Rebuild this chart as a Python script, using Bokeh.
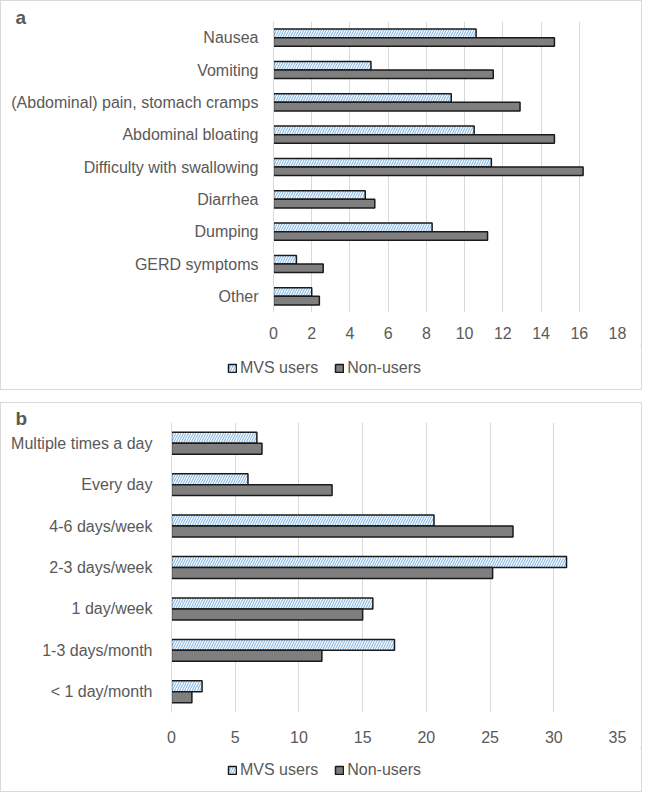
from bokeh.plotting import figure
from bokeh.models import (FactorRange, Range1d, SingleIntervalTicker, Legend,
                          LegendItem, ColumnDataSource)
from bokeh.transform import dodge
from bokeh.layouts import column
from bokeh.embed import file_html
from bokeh.resources import INLINE

# ---- data ----
sym_cats = ["Nausea", "Vomiting", "(Abdominal) pain, stomach cramps",
            "Abdominal bloating", "Difficulty with swallowing", "Diarrhea",
            "Dumping", "GERD symptoms", "Other"]
sym_mvs = [10.6, 5.1, 9.3, 10.5, 11.4, 4.8, 8.3, 1.2, 2.0]
sym_non = [14.7, 11.5, 12.9, 14.7, 16.2, 5.3, 11.2, 2.6, 2.4]

freq_cats = ["Multiple times a day", "Every day", "4-6 days/week",
             "2-3 days/week", "1 day/week", "1-3 days/month", "< 1 day/month"]
freq_mvs = [6.7, 6.0, 20.6, 31.0, 15.8, 17.5, 2.4]
freq_non = [7.1, 12.6, 26.8, 25.2, 15.0, 11.8, 1.6]

series_names = ["MVS users", "Non-users"]

FONT = "Liberation Sans"
TXT = "#595959"
GRID = "#d9d9d9"
W = 640

MVS_STYLE = dict(fill_color="white", hatch_pattern="/", hatch_color="#8fbde8",
                 hatch_scale=5, hatch_weight=1.2, line_color="#1a1a1a",
                 line_width=1.5)
NON_STYLE = dict(fill_color="#7f7f7f", line_color="#1a1a1a", line_width=1.5)


def make_panel(letter, cats, mvs, non, xmax, step, left, top, bottom,
               label_standoff, axis_standoff, legend_x, height, title_standoff):
    src = ColumnDataSource(dict(cat=cats, mvs=mvs, non=non))
    p = figure(width=W, height=height, output_backend="svg",
               toolbar_location=None,
               y_range=FactorRange(factors=list(reversed(cats))),
               x_range=Range1d(0, xmax),
               min_border_left=left, min_border_right=24,
               min_border_top=top, min_border_bottom=bottom)
    p.outline_line_color = None
    bh = 0.265
    p.hbar(y=dodge("cat", bh / 2, range=p.y_range), right="mvs", left=0,
           height=bh, source=src, **MVS_STYLE)
    p.hbar(y=dodge("cat", -bh / 2, range=p.y_range), right="non", left=0,
           height=bh, source=src, **NON_STYLE)

    p.xaxis.ticker = SingleIntervalTicker(interval=step)
    p.xaxis.axis_line_color = None
    p.xaxis.major_tick_line_color = None
    p.xaxis.minor_tick_line_color = None
    p.xaxis.major_tick_out = 0
    p.xaxis.major_label_standoff = axis_standoff
    p.xaxis.major_label_text_font = FONT
    p.xaxis.major_label_text_font_size = "16px"
    p.xaxis.major_label_text_color = TXT

    p.yaxis.axis_line_color = GRID
    p.yaxis.major_tick_line_color = None
    p.yaxis.minor_tick_line_color = None
    p.yaxis.major_tick_out = 0
    p.yaxis.major_label_standoff = label_standoff
    p.yaxis.major_label_text_font = FONT
    p.yaxis.major_label_text_font_size = "16px"
    p.yaxis.major_label_text_color = TXT

    p.xgrid.grid_line_color = GRID
    p.ygrid.grid_line_color = None

    p.title.text = letter
    p.title.align = "left"
    p.title.offset = 14 - left
    p.title.standoff = title_standoff
    p.title.text_font = FONT
    p.title.text_font_style = "bold"
    p.title.text_font_size = "19px"
    p.title.text_color = TXT

    # legend strip (its own small figure, same glyph styles)
    lg = figure(width=W, height=388 - height, output_backend="svg",
                toolbar_location=None,
                x_range=Range1d(0, 1), y_range=Range1d(0, 1),
                min_border=0, x_axis_type=None, y_axis_type=None)
    lg.outline_line_color = None
    lg.xgrid.grid_line_color = None
    lg.ygrid.grid_line_color = None
    # legend sample glyphs: placed far outside the visible range so that
    # only the legend swatches show
    e1 = lg.hbar(y=[50], left=[50], right=[51], height=0.1, **MVS_STYLE)
    e2 = lg.hbar(y=[50], left=[50], right=[51], height=0.1, **NON_STYLE)
    legend = Legend(items=[LegendItem(label=series_names[0], renderers=[e1]),
                           LegendItem(label=series_names[1], renderers=[e2])],
                    orientation="horizontal", location=(legend_x, 12),
                    glyph_width=10, glyph_height=10, label_standoff=3,
                    spacing=16, padding=4, margin=0,
                    label_text_font=FONT, label_text_font_size="16px",
                    label_text_color=TXT, border_line_color=None,
                    background_fill_alpha=0)
    lg.add_layout(legend, "center")

    return column(column(p), column(lg), spacing=0,
                  styles={"border": "1px solid #d9d9d9"})


pa = make_panel("a", sym_cats, sym_mvs, sym_non, 18, 2, 272, 20, 33,
                15, 10, 226, 344, -12)
pb = make_panel("b", freq_cats, freq_mvs, freq_non, 35, 5, 170, 19, 35,
                19, 14, 226, 344, -12)

layout = column(pa, pb, spacing=12)
open("out.html", "w").write(file_html(layout, INLINE))
